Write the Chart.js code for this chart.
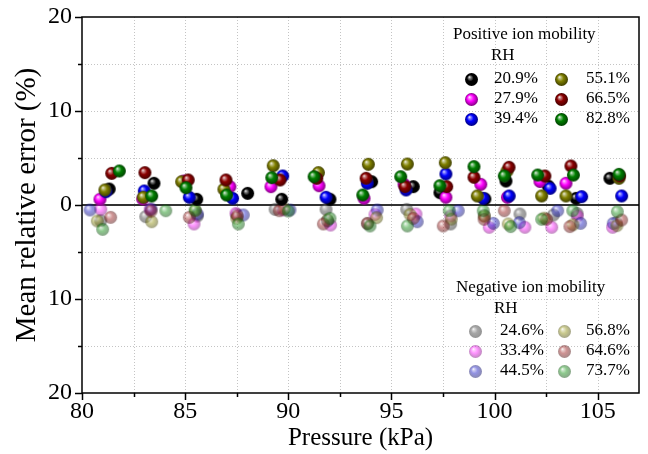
<!DOCTYPE html>
<html><head><meta charset="utf-8">
<script src="https://cdn.jsdelivr.net/npm/chart.js@4/dist/chart.umd.min.js"></script>
<style>html,body{margin:0;padding:0;background:#fff}#wrap{width:648px;height:454px}</style>
</head><body><div id="wrap"><canvas id="c" width="648" height="454"></canvas></div>
<script>
// ---------- Data ----------
const xTickLabels = [80, 85, 90, 95, 100, 105];
const yTickLabels = [-20, -10, 0, 10, 20];

const posTitle = 'Positive ion mobility';
const negTitle = 'Negative ion mobility';
const posRH = ['20.9%', '27.9%', '39.4%', '55.1%', '66.5%', '82.8%'];
const negRH = ['24.6%', '33.4%', '44.5%', '56.8%', '64.6%', '73.7%'];

// Positive ion mobility: pressure (kPa) and mean relative error (%)
const pos209P = [81.32, 83.49, 85.56, 88.03, 89.68, 92.02, 94.04, 96.06, 97.35, 99.53, 100.55, 102.6, 103.95, 105.59];
const pos209E = [1.70, 2.31, 0.61, 1.24, 0.61, 0.61, 2.48, 1.95, 1.31, 0.64, 2.55, 2.02, 0.71, 2.84];
const pos279P = [80.87, 82.94, 84.94, 87.17, 89.16, 91.49, 93.67, 95.61, 97.64, 99.33, 100.62, 102.2, 103.46];
const pos279E = [0.61, 0.64, 2.55, 1.95, 1.95, 2.05, 0.71, 2.2, 0.82, 2.2, 0.82, 2.5, 2.31];
const pos394P = [81.16, 83.02, 85.2, 87.3, 89.73, 91.83, 93.83, 95.71, 97.64, 99.45, 100.71, 102.69, 104.22, 106.16];
const pos394E = [1.41, 1.49, 0.82, 0.71, 3.09, 0.82, 2.31, 1.6, 3.3, 0.71, 0.96, 1.77, 0.89, 0.96];
const pos551P = [81.11, 82.97, 84.83, 86.88, 89.27, 91.46, 93.88, 95.77, 97.61, 99.16, 100.6, 102.28, 103.46, 106.03];
const pos551E = [1.60, 0.82, 2.48, 1.67, 4.18, 3.44, 4.33, 4.36, 4.5, 0.96, 3.6, 0.96, 0.96, 2.84];
const pos665P = [81.44, 83.05, 85.15, 86.98, 89.6, 91.38, 93.77, 95.66, 97.68, 99.0, 100.7, 102.44, 103.7, 106.06];
const pos665E = [3.37, 3.44, 2.66, 2.66, 2.66, 2.84, 2.84, 1.95, 1.95, 2.95, 4.01, 3.09, 4.15, 3.1];
const pos828P = [81.81, 83.38, 85.04, 87.01, 89.2, 91.25, 93.61, 95.45, 97.35, 99.0, 100.47, 102.09, 103.82, 106.03];
const pos828E = [3.62, 0.96, 1.84, 1.06, 2.91, 3.01, 1.06, 3.01, 2.05, 4.08, 3.09, 3.19, 3.19, 3.26];

// Negative ion mobility
const neg246P = [80.91, 83.09, 85.59, 87.5, 89.36, 91.83, 93.85, 95.74, 97.87, 99.5, 101.23, 102.85, 104.0, 105.9];
const neg246E = [-1.67, -1.24, -1.17, -1.0, -0.46, -0.46, -2.0, -0.46, -2.02, -1.1, -0.96, -1.06, -0.9, -1.9];
const neg334P = [80.91, 83.3, 85.43, 87.46, 89.76, 92.05, 94.2, 96.19, 97.87, 99.74, 101.47, 102.77, 104.01, 105.72];
const neg334E = [-0.46, -0.46, -2.02, -0.89, -0.53, -2.13, -1.0, -0.96, -1.17, -2.37, -2.37, -2.37, -1.17, -2.37];
const neg445P = [80.39, 83.35, 85.6, 87.82, 90.08, 91.9, 94.31, 96.25, 98.24, 99.94, 101.2, 103.06, 104.17, 105.75];
const neg445E = [-0.53, -0.43, -0.96, -1.06, -0.53, -1.7, -0.53, -1.78, -0.61, -1.95, -1.88, -0.61, -1.95, -1.95];
const neg568P = [80.74, 83.38, 85.5, 87.5, 89.8, 91.9, 94.28, 95.9, 97.9, 99.5, 100.66, 102.4, 103.8, 105.93];
const neg568E = [-1.70, -1.78, -0.6, -1.4, -0.4, -1.6, -1.35, -1.0, -1.5, -1.2, -2.02, -1.4, -2.1, -2.2];
const neg646P = [81.39, 83.35, 85.2, 87.53, 89.56, 91.7, 93.83, 96.06, 97.51, 99.49, 100.47, 102.52, 103.65, 106.16];
const neg646E = [-1.31, -0.64, -1.31, -1.17, -0.61, -2.02, -1.95, -1.41, -2.23, -1.52, -0.61, -1.52, -2.3, -1.6];
const neg737P = [81.0, 84.06, 85.48, 87.58, 90.0, 92.02, 93.96, 95.77, 97.8, 99.45, 100.78, 102.28, 103.79, 105.95];
const neg737E = [-2.59, -0.61, -0.53, -2.02, -0.64, -1.41, -2.23, -2.23, -0.61, -0.61, -2.3, -1.52, -0.61, -0.71];

// ---------- Styling ----------
const FONT = '"Liberation Serif", "Times New Roman", serif';
const R = 6.5;
function sphere(rgb, alpha, r) {
  const s = Math.ceil(r * 2 + 2);
  const c = document.createElement('canvas');
  c.width = s; c.height = s;
  const g = c.getContext('2d');
  const cx = s / 2, cy = s / 2;
  const [r0, g0, b0] = rgb;
  const lt = k => `rgb(${Math.round(r0 + (255 - r0) * k)},${Math.round(g0 + (255 - g0) * k)},${Math.round(b0 + (255 - b0) * k)})`;
  const dk = k => `rgb(${Math.round(r0 * k)},${Math.round(g0 * k)},${Math.round(b0 * k)})`;
  const grad = g.createRadialGradient(cx - r * 0.35, cy - r * 0.4, 0, cx, cy, r);
  grad.addColorStop(0, '#ffffff');
  grad.addColorStop(0.18, lt(0.55));
  grad.addColorStop(0.5, `rgb(${r0},${g0},${b0})`);
  grad.addColorStop(1, dk(0.5));
  g.globalAlpha = alpha;
  g.beginPath(); g.arc(cx, cy, r, 0, Math.PI * 2); g.fillStyle = grad; g.fill();
  return c;
}
const posCols = [[0, 0, 0], [255, 0, 255], [0, 0, 255], [128, 128, 0], [140, 0, 0], [0, 128, 0]];
const negCols = [[80, 80, 80], [255, 40, 255], [40, 40, 200], [150, 150, 30], [160, 40, 40], [30, 150, 30]];
const posImgs = posCols.map(c => sphere(c, 1, R));
const negImgs = negCols.map(c => sphere(c, 0.5, R));

const posP = [pos209P, pos279P, pos394P, pos551P, pos665P, pos828P];
const posE = [pos209E, pos279E, pos394E, pos551E, pos665E, pos828E];
const negP = [neg246P, neg334P, neg445P, neg568P, neg646P, neg737P];
const negE = [neg246E, neg334E, neg445E, neg568E, neg646E, neg737E];

const datasets = [];
let n = 0;
negP.forEach((p, i) => datasets.push({
  label: 'Neg RH ' + negRH[i], data: p.map((x, k) => ({ x, y: negE[i][k] })),
  pointStyle: negImgs[i], pointRadius: R, showLine: false, order: 100 - (n++)
}));
posP.forEach((p, i) => datasets.push({
  label: 'Pos RH ' + posRH[i], data: p.map((x, k) => ({ x, y: posE[i][k] })),
  pointStyle: posImgs[i], pointRadius: R, showLine: false, order: 100 - (n++)
}));

const deco = {
  id: 'deco',
  beforeDatasetsDraw(chart) {
    const { ctx, chartArea: a, scales: { x, y } } = chart;
    ctx.save();
    ctx.strokeStyle = '#c4c4c4'; ctx.lineWidth = 1; ctx.setLineDash([1, 2]);
    for (let v = 82.5; v < 107; v += 2.5) {
      const px = Math.round(x.getPixelForValue(v)) + 0.5;
      ctx.beginPath(); ctx.moveTo(px, a.top); ctx.lineTo(px, a.bottom); ctx.stroke();
    }
    for (let v = -15; v <= 15; v += 5) {
      if (v === 0) continue;
      const py = Math.round(y.getPixelForValue(v)) + 0.5;
      ctx.beginPath(); ctx.moveTo(a.left, py); ctx.lineTo(a.right, py); ctx.stroke();
    }
    ctx.setLineDash([]);
    ctx.strokeStyle = '#333'; ctx.lineWidth = 2;
    const y0 = Math.round(y.getPixelForValue(0));
    ctx.beginPath(); ctx.moveTo(a.left, y0); ctx.lineTo(a.right, y0); ctx.stroke();
    ctx.restore();
  },
  afterDraw(chart) {
    const { ctx, chartArea: a, scales: { x, y } } = chart;
    ctx.save();
    ctx.strokeStyle = '#000'; ctx.lineWidth = 1.5;
    ctx.strokeRect(a.left, a.top, a.width, a.height);
    ctx.lineWidth = 1.5;
    for (let v = 80; v <= 105; v += 2.5) {
      const px = Math.round(x.getPixelForValue(v)) + 0.5;
      const len = (v % 5 === 0) ? 7 : 4;
      ctx.beginPath(); ctx.moveTo(px, a.bottom); ctx.lineTo(px, a.bottom + len); ctx.stroke();
    }
    for (let v = -20; v <= 20; v += 5) {
      const py = Math.round(y.getPixelForValue(v)) + 0.5;
      const len = (v % 10 === 0) ? 7 : 4;
      ctx.beginPath(); ctx.moveTo(a.left, py); ctx.lineTo(a.left - len, py); ctx.stroke();
    }
    ctx.fillStyle = '#000';
    ctx.font = '17px ' + FONT;
    ctx.textBaseline = 'middle';
    ctx.textAlign = 'left';
    const drawLeg = (title, tx, ty, rhx, rhy, labels, imgs, rows, s1, t1, s2, t2) => {
      ctx.fillText(title, tx, ty);
      ctx.fillText('RH', rhx, rhy);
      labels.forEach((lab, i) => {
        const col = i < 3 ? 0 : 1;
        const ry = rows[i % 3];
        const sx = col ? s2 : s1, txx = col ? t2 : t1;
        const im = imgs[i];
        ctx.drawImage(im, Math.round(sx - im.width / 2), Math.round(ry - im.height / 2));
        ctx.fillText(lab, txx, ry);
      });
    };
    drawLeg(posTitle, 453, 35, 491, 56, posRH, posImgs, [79, 99, 119], 471, 494, 561, 586);
    drawLeg(negTitle, 456, 288, 494, 309, negRH, negImgs, [331, 351, 371], 475, 500, 564, 586);
    ctx.restore();
  }
};

const noPad = s => { s.paddingTop = 0; s.paddingBottom = 0; s.paddingLeft = 0; s.paddingRight = 0; };

new Chart(document.getElementById('c'), {
  type: 'scatter',
  data: { datasets },
  options: {
    responsive: false, animation: false, devicePixelRatio: 1,
    layout: { padding: { left: 0, right: 9, top: 17, bottom: 0 } },
    plugins: { legend: { display: false }, tooltip: { enabled: false } },
    scales: {
      x: {
        type: 'linear', min: 80, max: 107,
        afterFit: s => { s.height = 61; noPad(s); },
        grid: { display: false, drawTicks: false },
        border: { display: false },
        ticks: {
          stepSize: 5, includeBounds: false, padding: 4, color: '#000',
          font: { family: FONT, size: 24 },
          callback: v => xTickLabels.includes(v) ? String(v) : ''
        },
        title: { display: true, text: 'Pressure (kPa)', color: '#000', font: { family: FONT, size: 25 }, padding: { top: 0, bottom: 1 } }
      },
      y: {
        type: 'linear', min: -20, max: 20,
        afterFit: s => { s.width = 82; noPad(s); },
        grid: { display: false, drawTicks: false },
        border: { display: false },
        ticks: {
          stepSize: 10, padding: 10, color: '#000',
          font: { family: FONT, size: 24 },
          callback: v => yTickLabels.includes(v) ? String(Math.abs(v)) : ''
        },
        title: { display: true, text: 'Mean relative error (%)', color: '#000', font: { family: FONT, size: 29 }, padding: { top: 10, bottom: 0 } }
      }
    }
  },
  plugins: [deco]
});
</script>
</body></html>
